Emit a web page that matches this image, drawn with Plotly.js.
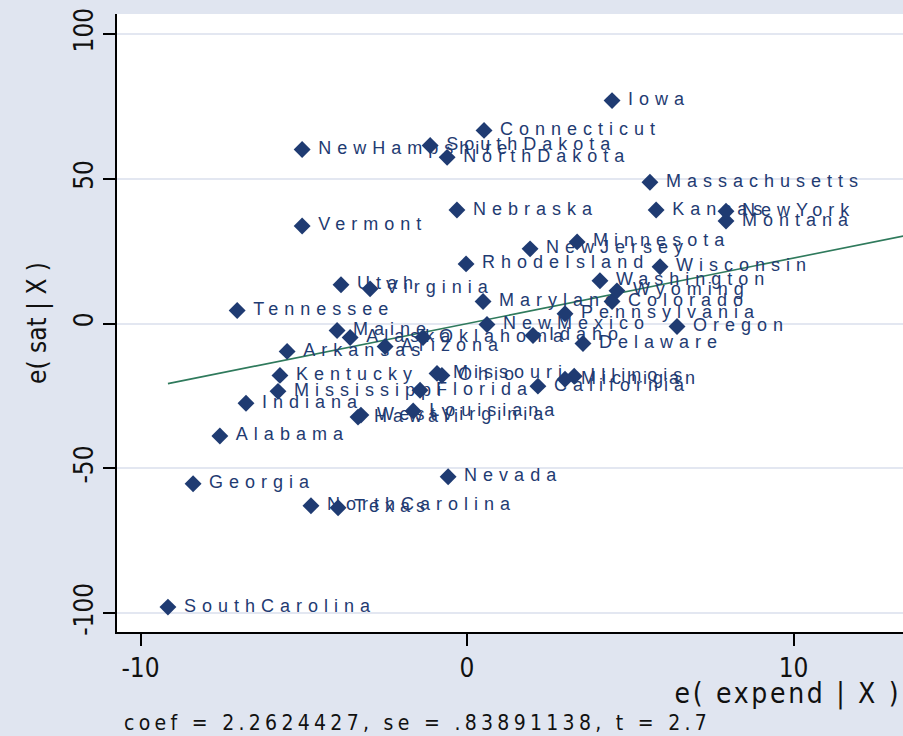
<!DOCTYPE html>
<html>
<head>
<meta charset="utf-8">
<script src="https://cdn.plot.ly/plotly-3.0.1.min.js"></script>
<style>
  html, body { margin: 0; padding: 0; background: #e0e5f0; }
  #chart { width: 903px; height: 736px; }
  .textpoint text { letter-spacing: 6px; }
  g.annotation[data-index="1"] text { letter-spacing: 4.3px; }
  g.annotation[data-index="0"] text { letter-spacing: 2.7px; }
</style>
</head>
<body>
<div id="chart"></div>
<script>
const states = ["Alabama","Alaska","Arizona","Arkansas","California","Colorado","Connecticut","Delaware","Florida","Georgia",
  "Hawaii","Idaho","Illinois","Indiana","Iowa","Kansas","Kentucky","Louisiana","Maine","Maryland",
  "Massachusetts","Michigan","Minnesota","Mississippi","Missouri","Montana","Nebraska","Nevada","NewHampshire","NewJersey",
  "NewMexico","NewYork","NorthCarolina","NorthDakota","Ohio","Oklahoma","Oregon","Pennsylvania","RhodeIsland","SouthCarolina",
  "SouthDakota","Tennessee","Texas","Utah","Vermont","Virginia","Washington","WestVirginia","Wisconsin","Wyoming"];
const eExpend = [-7.57,-3.58,-2.51,-5.51,2.17,4.44,0.52,3.55,-1.44,-8.39,
  -3.34,2.02,3.28,-6.77,4.44,5.79,-5.73,-1.65,-3.98,0.49,
  5.60,3.00,3.37,-5.79,-0.92,7.93,-0.31,-0.58,-5.05,1.93,
  0.61,7.93,-4.78,-0.61,-0.77,-1.35,6.43,3.00,-0.03,-9.16,
  -1.13,-7.04,-3.95,-3.86,-5.05,-2.97,4.07,-3.25,5.91,4.59];
const eSat = [-38.8,-4.8,-7.9,-9.6,-21.6,7.6,66.7,-6.9,-23.0,-55.3,
  -32.3,-4.1,-18.2,-27.5,77.0,39.2,-17.9,-30.2,-2.4,7.6,
  48.8,-19.2,28.2,-23.4,-17.2,35.4,39.2,-52.9,60.1,25.8,
  -0.3,38.8,-62.9,57.4,-17.9,-4.8,-1.0,3.4,20.6,-97.9,
  61.5,4.5,-63.6,13.4,33.7,12.0,14.8,-31.6,19.6,11.3];
const coef = 2.2624427;
const noteText = "coef = 2.2624427, se = .83891138, t = 2.7";
const xTicks = [-10, 0, 10];
const yTicks = [-100, -50, 0, 50, 100];
const xTitle = "e( expend | X )";
const yTitle = "e( sat | X )";

const navy = "#1f3b72";
const lineX = [Math.min(...eExpend), 14];
const lineY = lineX.map(v => coef * v);

const traces = [
  {
    type: "scatter", mode: "lines",
    x: lineX, y: lineY,
    line: { color: "#2f7a5c", width: 1.6 },
    hoverinfo: "skip"
  },
  {
    type: "scatter", mode: "markers",
    x: eExpend, y: eSat,
    marker: { symbol: "diamond", size: 13, color: navy },
    hoverinfo: "skip"
  },
  {
    type: "scatter", mode: "markers+text",
    x: eExpend, y: eSat, text: states,
    textposition: "middle right",
    textfont: { family: "Liberation Sans, Arial, sans-serif", size: 18, color: navy },
    marker: { symbol: "diamond", size: 24, color: "rgba(0,0,0,0)" },
    hoverinfo: "skip", cliponaxis: false
  }
];

const layout = {
  width: 903, height: 736,
  paper_bgcolor: "#e0e5f0", plot_bgcolor: "#ffffff",
  margin: { l: 117, r: 0, t: 14, b: 104 },
  showlegend: false,
  font: { family: "Liberation Sans Narrow, DejaVu Sans Condensed, Liberation Sans, Arial, sans-serif", color: "#111" },
  xaxis: {
    range: [-10.72, 13.35], tickvals: xTicks, ticktext: xTicks.map(String),
    ticks: "outside", ticklen: 12, tickwidth: 2, tickcolor: "#000",
    showline: true, linecolor: "#000", linewidth: 2, mirror: false,
    showgrid: false, zeroline: false,
    tickfont: { size: 26 }
  },
  yaxis: {
    range: [-106.5, 106.9], tickvals: yTicks, ticktext: yTicks.map(String),
    ticks: "outside", ticklen: 12, tickwidth: 2, tickcolor: "#000",
    showline: true, linecolor: "#000", linewidth: 2,
    showgrid: true, gridcolor: "#e3e7f1", gridwidth: 2, zeroline: false,
    tickangle: -90, tickfont: { size: 26 },
    title: { text: yTitle, font: { size: 26 }, standoff: 14 }
  },
  annotations: [
    { text: xTitle, xref: "paper", yref: "paper", x: 1.0, y: -0.07, xanchor: "right", yanchor: "top",
      align: "right", showarrow: false, font: { size: 28 } },
    { text: noteText, xref: "paper", yref: "paper", x: 0.006, y: -0.125, xanchor: "left", yanchor: "top",
      align: "left", showarrow: false, font: { size: 21 } }
  ]
};

Plotly.newPlot("chart", traces, layout, { displayModeBar: false, staticPlot: true });
</script>
</body>
</html>
